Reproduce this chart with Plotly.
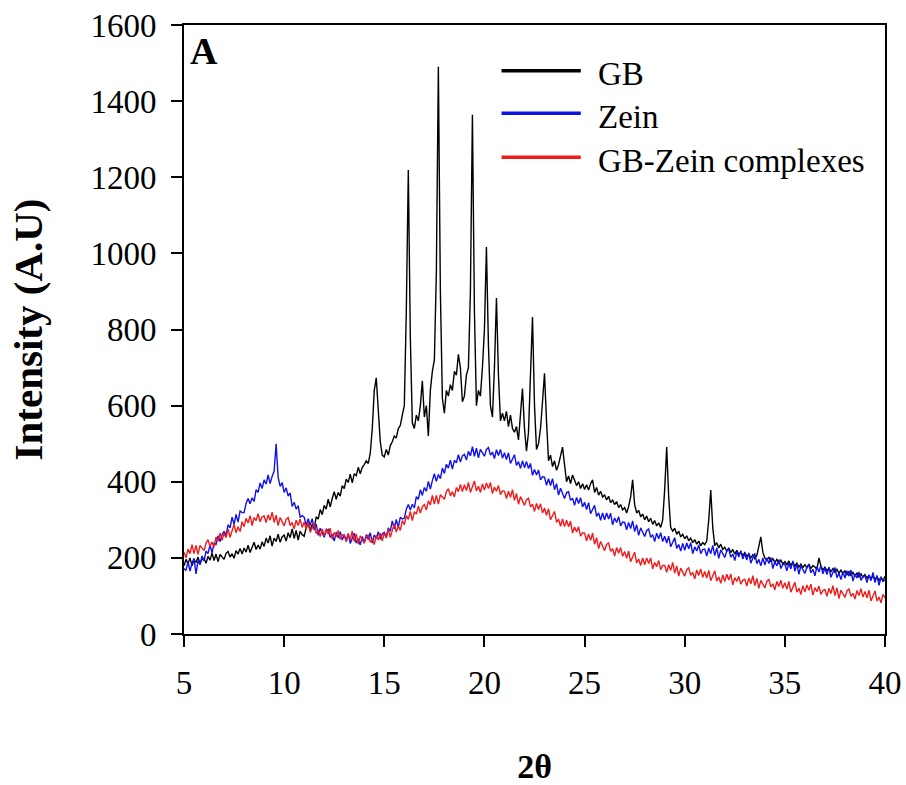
import plotly.graph_objects as go

# 2-theta scan positions (0.1 degree step, 5 to 40)
two_theta = [round(5 + 0.1 * i, 1) for i in range(351)]

gb = [
    179, 196, 185, 200, 179, 195, 188, 202, 186, 196,
    199, 186, 204, 194, 213, 193, 210, 190, 209, 202,
    196, 212, 217, 202, 211, 199, 219, 210, 225, 210,
    226, 215, 233, 214, 229, 241, 222, 234, 223, 242,
    230, 252, 239, 258, 231, 252, 243, 262, 241, 255,
    260, 244, 266, 253, 276, 251, 272, 247, 270, 261,
    257, 279, 289, 274, 288, 278, 308, 302, 327, 314,
    338, 328, 354, 334, 356, 374, 354, 372, 362, 390,
    382, 407, 398, 420, 397, 421, 416, 438, 421, 438,
    445, 455, 448, 475, 540, 640, 673, 600, 505, 470,
    465, 485, 470, 495, 505, 520, 515, 540, 548, 575,
    600, 850, 1219, 780, 555, 540, 575, 560, 600, 665,
    570, 600, 520, 640, 690, 720, 950, 1490, 900, 620,
    580, 640, 625, 655, 640, 690, 680, 735, 700, 610,
    625, 680, 700, 900, 1364, 850, 600, 640, 625, 700,
    800, 1017, 760, 600, 570, 700, 883, 680, 560, 580,
    560, 585, 545, 575, 540, 530, 545, 510, 590, 645,
    540, 480, 530, 680, 833, 600, 485, 500, 540, 610,
    685, 560, 455, 470, 440, 455, 430, 445, 470, 491,
    445, 400, 415, 395, 418, 405, 390, 400, 382, 395,
    380, 392, 378, 395, 405, 372, 385, 365, 375, 360,
    365, 352, 362, 345, 352, 340, 348, 332, 340, 326,
    332, 318, 335, 360, 405, 340, 318, 325, 308, 315,
    300, 310, 295, 304, 288, 298, 284, 292, 280, 300,
    380, 491, 360, 280, 270, 278, 262, 270, 255, 262,
    250, 258, 245, 252, 240, 248, 236, 244, 232, 240,
    235, 244, 300, 378, 280, 232, 240, 226, 236, 222,
    228, 218, 226, 214, 222, 210, 220, 208, 216, 206,
    214, 204, 210, 200, 208, 198, 206, 230, 255, 215,
    200, 194, 202, 190, 198, 188, 196, 186, 194, 184,
    190, 182, 192, 180, 188, 178, 186, 176, 184, 175,
    182, 174, 184, 172, 180, 176, 170, 200, 178, 168,
    176, 166, 174, 164, 172, 162, 170, 160, 168, 158,
    166, 156, 164, 154, 162, 152, 160, 150, 158, 149,
    156, 146, 155, 144, 153, 142, 151, 140, 150, 139,
    152,
]

zein = [
    172, 167, 190, 165, 186, 199, 158, 193, 182, 205,
    192, 218, 211, 234, 213, 238, 235, 258, 243, 261,
    270, 259, 287, 279, 307, 288, 314, 294, 323, 319,
    319, 343, 356, 342, 358, 348, 379, 372, 397, 382,
    405, 394, 418, 395, 414, 428, 500, 412, 388, 398,
    372, 384, 362, 371, 335, 346, 328, 337, 307, 311,
    307, 286, 303, 285, 303, 273, 289, 259, 278, 265,
    254, 271, 275, 254, 262, 244, 267, 253, 269, 247,
    261, 245, 264, 238, 254, 265, 239, 250, 234, 256,
    240, 261, 248, 266, 239, 260, 251, 269, 249, 263,
    267, 254, 279, 270, 297, 276, 301, 280, 307, 302,
    304, 328, 340, 326, 341, 331, 361, 354, 379, 364,
    385, 375, 401, 381, 403, 421, 401, 419, 408, 436,
    422, 446, 436, 457, 433, 456, 450, 471, 452, 468,
    472, 457, 480, 468, 492, 467, 488, 463, 485, 475,
    467, 485, 490, 470, 478, 461, 484, 469, 485, 462,
    476, 458, 476, 448, 462, 471, 443, 453, 435, 455,
    437, 453, 435, 448, 417, 432, 418, 431, 405, 413,
    412, 391, 408, 390, 408, 379, 395, 365, 383, 369,
    356, 371, 374, 351, 357, 338, 359, 343, 358, 334,
    346, 327, 345, 316, 329, 338, 309, 318, 299, 318,
    300, 318, 302, 317, 287, 305, 293, 308, 284, 294,
    293, 274, 293, 277, 297, 269, 287, 259, 279, 267,
    256, 272, 276, 254, 261, 243, 265, 250, 266, 243,
    257, 239, 257, 229, 243, 253, 225, 235, 218, 238,
    220, 239, 224, 240, 211, 229, 218, 234, 211, 222,
    223, 205, 226, 211, 233, 206, 226, 199, 221, 210,
    201, 218, 223, 202, 210, 193, 216, 202, 219, 197,
    211, 194, 213, 186, 201, 212, 185, 196, 179, 200,
    181, 200, 185, 201, 172, 190, 179, 195, 172, 183,
    184, 166, 186, 171, 192, 165, 184, 157, 179, 168,
    159, 176, 182, 161, 170, 153, 177, 163, 180, 158,
    173, 156, 175, 149, 164, 175, 148, 160, 143, 164,
    147, 166, 152, 168, 139, 158, 147, 163, 141, 152,
    153, 135, 155, 140, 162, 135, 154, 128, 149, 138,
    142,
]

complexes = [
    215, 200, 223, 211, 235, 211, 233, 209, 233, 225,
    219, 239, 248, 230, 242, 228, 255, 244, 265, 246,
    265, 253, 276, 254, 273, 288, 266, 282, 269, 295,
    282, 304, 292, 311, 285, 306, 298, 316, 295, 308,
    310, 293, 313, 299, 320, 293, 312, 285, 306, 294,
    284, 301, 306, 285, 293, 276, 299, 285, 302, 280,
    294, 276, 295, 267, 281, 291, 264, 274, 256, 276,
    258, 277, 262, 278, 249, 267, 256, 272, 249, 260,
    260, 242, 263, 248, 270, 243, 263, 236, 258, 247,
    238, 255, 261, 241, 250, 235, 259, 247, 265, 245,
    265, 252, 276, 254, 274, 290, 268, 284, 272, 298,
    287, 311, 301, 322, 298, 321, 315, 336, 318, 334,
    340, 326, 350, 339, 364, 341, 364, 341, 366, 359,
    354, 374, 382, 363, 374, 360, 385, 374, 393, 374,
    392, 377, 398, 372, 389, 402, 376, 388, 372, 394,
    378, 397, 382, 398, 369, 386, 375, 390, 366, 376,
    375, 356, 375, 359, 379, 351, 369, 341, 361, 349,
    338, 353, 357, 334, 341, 322, 343, 327, 342, 318,
    331, 312, 329, 300, 313, 322, 293, 302, 283, 302,
    282, 299, 282, 296, 265, 281, 268, 282, 257, 266,
    265, 245, 263, 246, 265, 236, 253, 224, 243, 230,
    219, 235, 239, 217, 224, 205, 227, 212, 227, 204,
    217, 199, 218, 190, 204, 215, 187, 197, 180, 200,
    182, 200, 185, 200, 171, 188, 177, 193, 169, 180,
    180, 162, 182, 167, 188, 160, 179, 152, 173, 162,
    152, 169, 174, 154, 162, 145, 168, 154, 171, 149,
    164, 147, 167, 140, 154, 166, 139, 150, 133, 155,
    138, 157, 142, 158, 129, 148, 138, 151, 131, 141,
    144, 126, 147, 132, 153, 127, 146, 120, 141, 130,
    121, 138, 144, 124, 132, 116, 138, 125, 141, 120,
    135, 118, 138, 110, 124, 136, 110, 120, 104, 127,
    110, 129, 115, 131, 102, 122, 111, 126, 104, 114,
    117, 99, 120, 106, 127, 101, 121, 93, 115, 105,
    96, 113, 119, 99, 107, 92, 114, 101, 119, 97,
    112, 95, 115, 87, 101, 113, 87, 97, 82, 104,
    95,
]

series_names = ["GB", "Zein", "GB-Zein complexes"]
series_colors = ["#000000", "#1010e8", "#ee1c1c"]
x_ticks = [5, 10, 15, 20, 25, 30, 35, 40]
y_ticks = [0, 200, 400, 600, 800, 1000, 1200, 1400, 1600]

FONT = "Liberation Serif, Times New Roman, serif"

fig = go.Figure()
for name, ys, col in zip(series_names, [gb, zein, complexes], series_colors):
    fig.add_trace(go.Scatter(x=two_theta, y=ys, mode="lines", name=name,
                             line=dict(color=col, width=1.4), showlegend=False))

axis_common = dict(showline=True, linecolor="black", linewidth=1.6, mirror=True,
                   ticks="outside", ticklen=11, tickwidth=1.6, tickcolor="black",
                   showgrid=False, zeroline=False,
                   tickfont=dict(family=FONT, size=33, color="black"))

fig.update_xaxes(range=[5, 40], tickvals=x_ticks, ticklabelstandoff=8,
                 title=dict(text="<b>2θ</b>", font=dict(family=FONT, size=34, color="black"),
                            standoff=54),
                 **axis_common)
fig.update_yaxes(range=[0, 1600], tickvals=y_ticks, ticklabelstandoff=8,
                 title=dict(text="<b>Intensity (A.U)</b>", font=dict(family=FONT, size=41, color="black"),
                            standoff=35),
                 **axis_common)

# legend (drawn manually to match long sample lines)
leg_y = [0.925, 0.855, 0.783]
for name, col, yy in zip(series_names, series_colors, leg_y):
    fig.add_shape(type="line", xref="paper", yref="paper",
                  x0=0.453, x1=0.566, y0=yy, y1=yy,
                  line=dict(color=col, width=3.5))
    fig.add_annotation(xref="paper", yref="paper", x=0.588, y=yy - 0.006,
                       xanchor="left", yanchor="middle", showarrow=False,
                       text=name, font=dict(family=FONT, size=33, color="black"))

fig.add_annotation(xref="paper", yref="paper", x=0.006, y=0.958,
                   xanchor="left", yanchor="middle", showarrow=False,
                   text="<b>A</b>", font=dict(family=FONT, size=38, color="black"))

fig.update_layout(width=906, height=785,
                  margin=dict(l=184, r=21, t=25, b=151, autoexpand=False),
                  paper_bgcolor="white", plot_bgcolor="white")

fig.write_html("out.html")
